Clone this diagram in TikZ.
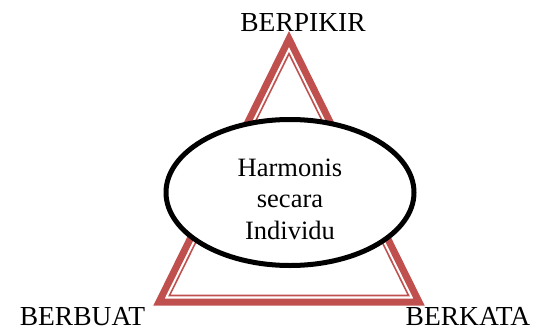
\documentclass[tikz,border=0pt]{standalone}
\usepackage{fontspec}
\setmainfont{Liberation Serif}
\usepackage{xcolor}
\usepackage{tikz}
\usetikzlibrary{shapes.geometric,calc}
\definecolor{segired}{RGB}{192,80,77}
\tikzset{
  sudut/.style={anchor=base,inner sep=0pt,font=\fontsize{27.5}{31}\selectfont},
  pusat/.style={ellipse,draw=black,line width=5pt,fill=white,minimum width=248pt,
    minimum height=146pt,inner sep=0pt}
}

\begin{document}
\begin{tikzpicture}[x=1pt,y=-1pt]
  \useasboundingbox (0,0) rectangle (537,329);
  % segitiga luar (tebal) dan dalam (tipis)
  \coordinate (atas) at (289,39);
  \coordinate (kiri) at (159,302);
  \coordinate (kanan) at (419,302);
  \coordinate (tengah) at (289,221.25);
  \draw[segired,line width=7pt] (atas) -- (kiri) -- (kanan) -- cycle;
  \draw[segired,line width=1.6pt]
    ($(tengah)!0.9195!(atas)$) -- ($(tengah)!0.9195!(kiri)$) -- ($(tengah)!0.9195!(kanan)$) -- cycle;
  % elips di tengah
  \node[pusat] (harmonis) at (290,192.5) {};
  \node[align=center,inner sep=0pt,font=\fontsize{26.5}{31.5}\selectfont] (isi) at (290,199)
    {Harmonis\\secara\\Individu};
  % label sudut
  \node[sudut] (berpikir) at (303,32) {BERPIKIR};
  \node[sudut] (berbuat) at (82.5,325) {BERBUAT};
  \node[sudut] (berkata) at (468,325) {BERKATA};
\end{tikzpicture}
\end{document}
